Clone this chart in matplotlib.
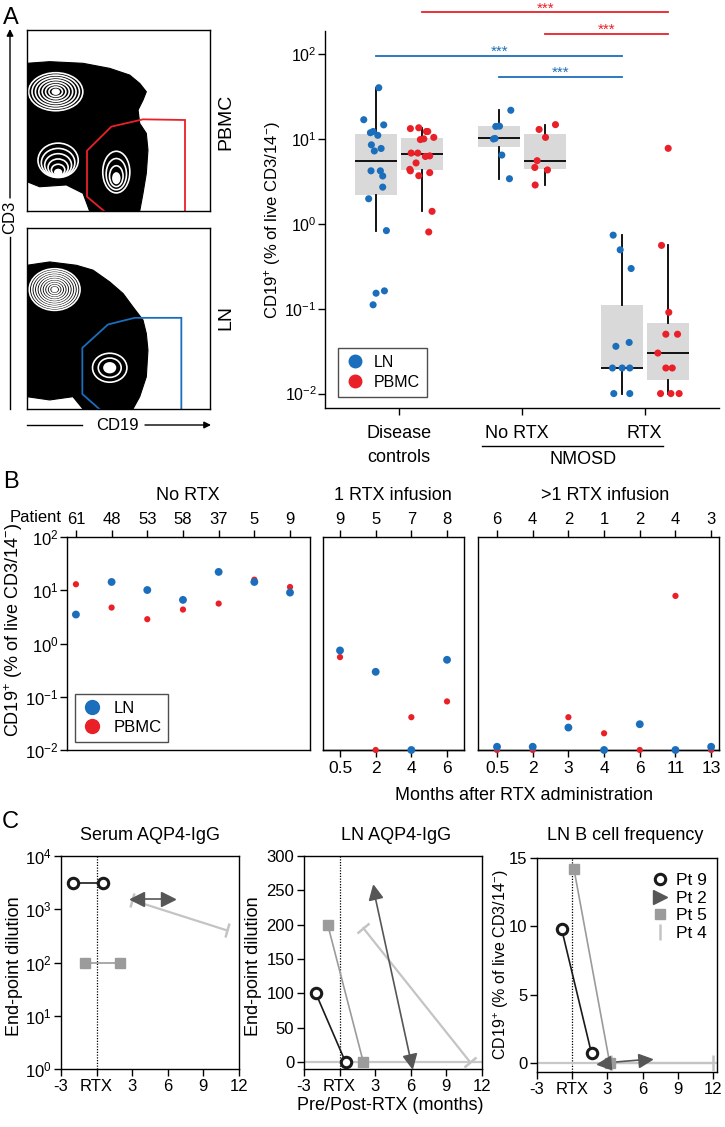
import numpy as np
import matplotlib
matplotlib.use('Agg')
import matplotlib.pyplot as plt
from matplotlib.patches import Polygon, Ellipse
from matplotlib.lines import Line2D
from matplotlib.markers import MarkerStyle
from matplotlib.transforms import Affine2D
from matplotlib.ticker import NullLocator

plt.rcParams['font.family'] = ['Liberation Sans', 'DejaVu Sans']
plt.rcParams['mathtext.fontset'] = 'custom'
plt.rcParams['mathtext.rm'] = 'Liberation Sans'
plt.rcParams['mathtext.it'] = 'Liberation Sans:italic'
plt.rcParams['mathtext.bf'] = 'Liberation Sans:bold'
plt.rcParams['mathtext.sf'] = 'Liberation Sans'
plt.rcParams['axes.linewidth'] = 1.0

# ======================= DATA =======================
# ---- Panel A: flow dot-plot shapes (unit square) ----
pbmc_outline_u = [0, 0.124, 0.306, 0.452, 0.561, 0.616, 0.652, 0.634, 0.607, 0.616,
                  0.652, 0.661, 0.652, 0.634, 0.616, 0.342, 0.306, 0.215, 0.069, 0]
pbmc_outline_v = [0.816, 0.825, 0.816, 0.788, 0.751, 0.705, 0.659, 0.613, 0.558, 0.484,
                  0.429, 0.337, 0.208, 0.098, 0, 0, 0.098, 0.144, 0.134, 0.162]
pbmc_cl_u = [0.157, 0.170, 0.488]
pbmc_cl_v = [0.659, 0.200, 0.170]
pbmc_cl_a = [0.148, 0.110, 0.074]
pbmc_cl_b = [0.105, 0.095, 0.115]
pbmc_cl_n = [8, 6, 4]
pbmc_cl_dv = [0.0, 0.08, 0.045]
pbmc_gate_u = [0.4208, 0.3279, 0.3279, 0.4608, 0.6339, 0.8634, 0.8634]
pbmc_gate_v = [0, 0.0792, 0.3333, 0.466, 0.5064, 0.5028, 0]

ln_outline_u = [0, 0.124, 0.27, 0.361, 0.452, 0.525, 0.579, 0.634, 0.652, 0.661,
                0.652, 0.616, 0.579, 0.306, 0.251, 0.124, 0]
ln_outline_v = [0.794, 0.8125, 0.794, 0.767, 0.702, 0.638, 0.564, 0.491, 0.417, 0.325,
                0.178, 0.068, 0, 0, 0.068, 0.05, 0.068]
ln_cl_u = [0.151, 0.452]
ln_cl_v = [0.660, 0.228]
ln_cl_a = [0.139, 0.094]
ln_cl_b = [0.115, 0.080]
ln_cl_n = [10, 3]
ln_cl_dv = [0.0, 0.0]
ln_gate_u = [0.395, 0.3024, 0.3024, 0.4426, 0.5883, 0.8434, 0.8434]
ln_gate_v = [0, 0.0827, 0.338, 0.4669, 0.5037, 0.5037, 0]

# ---- Panel A: CD19+ frequencies ----
a_groups = ['Disease\ncontrols', 'No RTX', 'RTX']
dc_ln = [40, 16.8, 14.6, 11.8, 12.2, 11.0, 8.5, 7.7, 7.2, 4.2, 4.2, 3.65, 2.7, 1.97, 0.83,
         0.152, 0.162, 0.111]
dc_ln_jit = [0.022, -0.10, 0.062, -0.046, -0.024, 0.014, -0.038, 0.041, -0.014, -0.041,
             0.035, 0.054, 0.054, -0.06, 0.084, 0.0, 0.068, -0.024]
dc_pbmc = [13.2, 13.5, 12.2, 12.2, 10.4, 9.8, 10.0, 6.8, 6.8, 6.2, 6.3, 5.2, 4.37, 4.2,
           3.68, 4.0, 1.4, 0.8]
dc_pbmc_jit = [-0.095, -0.027, 0.035, 0.046, 0.095, -0.014, 0.014, -0.089, -0.035, 0.027,
               0.062, -0.049, -0.10, -0.095, -0.027, 0.062, 0.081, 0.054]
nr_ln = [21.7, 14.0, 14.1, 9.96, 10.1, 6.44, 3.39]
nr_ln_jit = [0.095, -0.027, 0.003, -0.046, -0.033, 0.022, 0.084]
nr_pbmc = [14.7, 12.9, 10.4, 5.53, 4.6, 4.3, 2.86]
nr_pbmc_jit = [0.084, -0.049, 0.003, -0.065, -0.084, 0.019, -0.081]
rtx_ln = [0.734, 0.493, 0.297, 0.036, 0.040, 0.02, 0.02, 0.02, 0.01, 0.01]
rtx_ln_jit = [-0.073, -0.016, 0.073, -0.051, 0.057, -0.079, 0.0, 0.062, -0.068, 0.062]
rtx_pbmc = [7.73, 0.556, 0.0905, 0.05, 0.05, 0.03, 0.02, 0.02, 0.01, 0.01, 0.01]
rtx_pbmc_jit = [0.0, -0.054, 0.005, -0.019, 0.076, -0.084, -0.019, 0.033, -0.062, 0.022, 0.089]
# box stats, order: DC-LN, DC-PBMC, NoRTX-LN, NoRTX-PBMC, RTX-LN, RTX-PBMC
box_q1 = [2.16, 4.25, 8.0, 4.45, 0.02, 0.0143]
box_med = [5.48, 6.56, 10.1, 5.53, 0.02, 0.03]
box_q3 = [11.5, 10.2, 14.0, 11.5, 0.11, 0.067]
box_lo = [0.83, 1.4, 3.39, 2.86, 0.01, 0.01]
box_hi = [40, 13.5, 21.7, 14.7, 0.734, 0.556]
sig_from = [1, 3, 0, 2]
sig_to = [5, 5, 4, 4]
sig_y = [307.6, 172.2, 95.5, 53.7]
sig_label = ['***', '***', '***', '***']

# ---- Panel B ----
b_nr_patients = ['61', '48', '53', '58', '37', '5', '9']
b_nr_ln = [3.5, 14.3, 10.1, 6.59, 22.1, 14.3, 9.04]
b_nr_pbmc = [12.96, 4.73, 2.86, 4.34, 5.62, 15.8, 11.5]
b_one_patients = ['9', '5', '7', '8']
b_one_months = ['0.5', '2', '4', '6']
b_one_ln = [0.74, 0.294, 0.01, 0.494]
b_one_pbmc = [0.555, 0.01, 0.0413, 0.0817]
b_multi_patients = ['6', '4', '2', '1', '2', '4', '3']
b_multi_months = ['0.5', '2', '3', '4', '6', '11', '13']
b_multi_ln = [0.0115, 0.0115, 0.0264, 0.01, 0.0305, 0.01, 0.0115]
b_multi_pbmc = [0.01, 0.01, 0.0413, 0.0206, 0.01, 7.83, 0.01]

# ---- Panel C ----
c_patients = ['Pt 9', 'Pt 2', 'Pt 5', 'Pt 4']
serum_x = {'Pt 9': [-2, 0.5], 'Pt 2': [3.4, 6.0], 'Pt 5': [-1, 2], 'Pt 4': [3.0, 11.0]}
serum_y = {'Pt 9': [3160, 3160], 'Pt 2': [1540, 1540], 'Pt 5': [100, 100], 'Pt 4': [1480, 400]}
lnab_x = {'Pt 9': [-2, 0.5], 'Pt 2': [2.9, 6.0], 'Pt 5': [-1, 2], 'Pt 4': [2.0, 11.0]}
lnab_y = {'Pt 9': [100, 0], 'Pt 2': [248, 2], 'Pt 5': [200, 0], 'Pt 4': [195, 0]}
bcell_x = {'Pt 9': [-0.9, 1.65], 'Pt 2': [2.7, 6.2], 'Pt 5': [0.15, 3.2], 'Pt 4': [3.3, 12.05]}
bcell_y = {'Pt 9': [9.8, 0.7], 'Pt 2': [0, 0.25], 'Pt 5': [14.2, 0], 'Pt 4': [0, 0]}
c_xticks = [-3, 0, 3, 6, 9, 12]
c_xticklabels = ['-3', 'RTX', '3', '6', '9', '12']

# ======================= STYLE / LAYOUT =======================
BLUE = '#1b6ebc'
RED = '#ea2029'
BOXGRAY = '#d9d9d9'
PT_COL = {'Pt 9': '#1a1a1a', 'Pt 2': '#565656', 'Pt 5': '#9b9b9b', 'Pt 4': '#c4c4c4'}

W, H = 725, 1127
fig = plt.figure(figsize=(W / 100, H / 100), dpi=100)


def add_ax(l, t, r, b, **kw):
    return fig.add_axes([l / W, 1 - b / H, (r - l) / W, (b - t) / H], **kw)


ov = add_ax(0, 0, W, H, zorder=20)
ov.set_xlim(0, W)
ov.set_ylim(H, 0)
ov.axis('off')


def T(x, y, s, **kw):
    kw.setdefault('ha', 'center')
    kw.setdefault('va', 'center')
    ov.text(x, y, s, **kw)


def logfmt(e):
    return r'$\mathregular{10^{%d}}$' % e


YLAB = r'CD19$^{+}$ (% of live CD3/14$^{-}$)'

# ---------------- Panel A: flow plots ----------------
def draw_flow(ax, ou, ovv, cu, cv, ca, cb, cn, cdv, gu, gv, gcol):
    ax.set_xlim(0, 1)
    ax.set_ylim(0, 1)
    ax.set_xticks([])
    ax.set_yticks([])
    ax.add_patch(Polygon(np.column_stack([ou, ovv]), closed=True, fc='black', ec='black',
                         lw=0.8, joinstyle='round'))
    for u0, v0, a, b, n, dv in zip(cu, cv, ca, cb, cn, cdv):
        for i in range(n, 0, -1):
            s = i / n
            ax.add_patch(Ellipse((u0, v0 + dv * s), 2 * a * s, 2 * b * s,
                                 fill=(i == 1), fc='white', ec='white', lw=1.2))
    ax.plot(gu, gv, color=gcol, lw=1.3, clip_on=False, solid_joinstyle='miter')


ax_f1 = add_ax(27, 30, 210, 211)
draw_flow(ax_f1, pbmc_outline_u, pbmc_outline_v, pbmc_cl_u, pbmc_cl_v, pbmc_cl_a, pbmc_cl_b,
          pbmc_cl_n, pbmc_cl_dv, pbmc_gate_u, pbmc_gate_v, RED)
ax_f2 = add_ax(27, 228, 210, 409)
draw_flow(ax_f2, ln_outline_u, ln_outline_v, ln_cl_u, ln_cl_v, ln_cl_a, ln_cl_b,
          ln_cl_n, ln_cl_dv, ln_gate_u, ln_gate_v, BLUE)

T(226, 122, 'PBMC', rotation=90, fontsize=14)
T(226, 318, 'LN', rotation=90, fontsize=14)
# CD3 axis arrow
ov.plot([10, 10], [409, 237], color='black', lw=1)
ov.annotate('', xy=(10, 29), xytext=(10, 198),
            arrowprops=dict(arrowstyle='-|>', color='black', lw=1, mutation_scale=10,
                            shrinkA=0, shrinkB=0))
T(10, 217, 'CD3', rotation=90, fontsize=12)
# CD19 axis arrow
ov.plot([27, 82], [425, 425], color='black', lw=1)
ov.annotate('', xy=(211, 425), xytext=(145, 425),
            arrowprops=dict(arrowstyle='-|>', color='black', lw=1, mutation_scale=10,
                            shrinkA=0, shrinkB=0))
T(117, 425, 'CD19', fontsize=12)

# ---------------- Panel A: box plot ----------------
axA = add_ax(325, 31, 719, 408)
axA.set_yscale('log')
axA.set_xlim(0.398, 3.6)
axA.set_ylim(10 ** -2.17, 10 ** 2.27)
offset = 0.187
pos = [g + s * offset for g in (1, 2, 3) for s in (-1, 1)]
stats = [dict(med=m, q1=a, q3=b, whislo=lo, whishi=hi, fliers=[])
         for m, a, b, lo, hi in zip(box_med, box_q1, box_q3, box_lo, box_hi)]
axA.bxp(stats, positions=pos, widths=0.34, patch_artist=True, showfliers=False,
        showcaps=False, boxprops=dict(facecolor=BOXGRAY, edgecolor='none'),
        medianprops=dict(color='black', lw=1.3), whiskerprops=dict(color='black', lw=1.3),
        manage_ticks=False)
a_vals = [dc_ln, dc_pbmc, nr_ln, nr_pbmc, rtx_ln, rtx_pbmc]
a_jits = [dc_ln_jit, dc_pbmc_jit, nr_ln_jit, nr_pbmc_jit, rtx_ln_jit, rtx_pbmc_jit]
for i, (vals, jit) in enumerate(zip(a_vals, a_jits)):
    col = BLUE if i % 2 == 0 else RED
    axA.scatter(pos[i] + np.array(jit), vals, s=26, c=col, edgecolors='none', zorder=3,
                clip_on=False)
for spn in ('top', 'right'):
    axA.spines[spn].set_visible(False)
axA.yaxis.set_minor_locator(NullLocator())
axA.set_yticks([1e-2, 1e-1, 1, 10, 100])
axA.set_yticklabels([logfmt(e) for e in (-2, -1, 0, 1, 2)])
axA.set_xticks([1, 2, 3])
axA.set_xticklabels(['', '', ''])
axA.tick_params(axis='y', length=5, width=1, labelsize=11.5, pad=1)
axA.tick_params(axis='x', length=5, width=1)
for a, b, y, lab, col in zip(sig_from, sig_to, sig_y, sig_label, [RED, RED, BLUE, BLUE]):
    axA.plot([pos[a], pos[b]], [y, y], color=col, lw=1.3, clip_on=False)
    axA.text((pos[a] + pos[b]) / 2, y, lab, ha='center', va='baseline', color=col,
             fontsize=11, clip_on=False)
hA = [Line2D([], [], marker='o', ls='none', color=BLUE, ms=9, label='LN'),
      Line2D([], [], marker='o', ls='none', color=RED, ms=9, label='PBMC')]
legA = axA.legend(handles=hA, loc='lower left', bbox_to_anchor=(0.033, 0.029),
                  borderaxespad=0, fancybox=False, edgecolor='#222222', fontsize=11.5,
                  handletextpad=0.6, borderpad=0.45, labelspacing=0.3, handlelength=1.2)
legA.get_frame().set_linewidth(1.0)

T(399, 433, 'Disease', fontsize=13)
T(399, 458, 'controls', fontsize=13)
T(517, 433, a_groups[1], fontsize=13)
T(644, 433, a_groups[2], fontsize=13)
ov.plot([482, 663], [446, 446], color='black', lw=1)
T(583, 460, 'NMOSD', fontsize=13)
T(273, 220, YLAB, rotation=90, fontsize=12)

# ---------------- Panel B ----------------
b_specs = [
    (add_ax(67, 537, 310, 750), b_nr_patients, None, b_nr_ln, b_nr_pbmc, (-0.25, 6.56)),
    (add_ax(323, 537, 464, 750), b_one_patients, b_one_months, b_one_ln, b_one_pbmc,
     (-0.477, 3.476)),
    (add_ax(478, 537, 719, 750), b_multi_patients, b_multi_months, b_multi_ln, b_multi_pbmc,
     (-0.533, 6.22)),
]
for k, (ax, pats, months, ln, pb, xl) in enumerate(b_specs):
    x = np.arange(len(pats))
    ax.set_yscale('log')
    ax.set_ylim(1e-2, 1e2)
    ax.set_xlim(*xl)
    ax.scatter(x, pb, s=20, c=RED, edgecolors='none', zorder=3, clip_on=False)
    ax.scatter(x, ln, s=32, c=BLUE, edgecolors='none', zorder=4, clip_on=False)
    ax.set_xticks(x)
    ax.set_xticklabels(pats)
    ax.tick_params(axis='x', top=True, labeltop=True, bottom=False, labelbottom=False,
                   length=5, width=1, labelsize=12, pad=2)
    ax.yaxis.set_minor_locator(NullLocator())
    if k == 0:
        ax.set_yticks([1e-2, 1e-1, 1, 10, 100])
        ax.set_yticklabels([logfmt(e) for e in (-2, -1, 0, 1, 2)])
        ax.tick_params(axis='y', length=5, width=1, labelsize=12, pad=1)
    else:
        ax.set_yticks([])
    if months:
        sec = ax.secondary_xaxis('bottom')
        sec.set_xticks(x)
        sec.set_xticklabels(months)
        sec.tick_params(length=5, width=1, labelsize=12.5, pad=3)
axB1 = b_specs[0][0]
hB = [Line2D([], [], marker='o', ls='none', color=BLUE, ms=10, label='LN'),
      Line2D([], [], marker='o', ls='none', color=RED, ms=10, label='PBMC')]
legB = axB1.legend(handles=hB, loc='lower left', bbox_to_anchor=(0.033, 0.038),
                   borderaxespad=0, fancybox=False, edgecolor='#222222', fontsize=12,
                   handletextpad=0.7, borderpad=0.4, labelspacing=0.25, handlelength=1.2)
legB.get_frame().set_linewidth(1.0)
T(62, 518, 'Patient', ha='right', fontsize=12)
T(188, 495, 'No RTX', fontsize=13)
T(393, 495, '1 RTX infusion', fontsize=13)
T(605, 495, '>1 RTX infusion', fontsize=13)
T(524, 795, 'Months after RTX administration', fontsize=13)
T(14, 630, YLAB, rotation=90, fontsize=13)

# ---------------- Panel C ----------------
axC1 = add_ax(61, 856, 239, 1069)
axC2 = add_ax(304, 856, 482, 1069)
axC3 = add_ax(537, 858, 717, 1072)
axC1.set_yscale('log')
axC1.set_ylim(1, 1e4)
axC1.yaxis.set_minor_locator(NullLocator())
axC1.set_yticks([1, 10, 100, 1000, 10000])
axC1.set_yticklabels([logfmt(e) for e in range(5)])
axC2.set_ylim(-10, 300)
axC2.set_yticks([0, 50, 100, 150, 200, 250, 300])
axC3.set_ylim(-0.66, 15)
axC3.set_yticks([0, 5, 10, 15])
for ax, xr in ((axC1, 12), (axC2, 12), (axC3, 12.35)):
    ax.set_xlim(-3, xr)
    ax.set_xticks(c_xticks)
    ax.set_xticklabels(c_xticklabels)
    ax.tick_params(length=5, width=1, labelsize=12, pad=2)
    ax.axvline(0, color='black', lw=0.9, ls=(0, (1, 1.2)), zorder=1)
axC2.axhline(0, color='#c8c8c8', lw=1.6, zorder=1)
axC3.axhline(0, color='#c8c8c8', lw=1.6, zorder=1)


def draw_patients(ax, xd, yd):
    for p in ['Pt 4', 'Pt 5', 'Pt 2', 'Pt 9']:
        xs, ys = xd[p], yd[p]
        col = PT_COL[p]
        lw = 1.6 if p == 'Pt 4' else 1.2
        ax.plot(xs, ys, color=col, lw=lw, zorder=2, clip_on=False)
        if p == 'Pt 9':
            ax.plot(xs, ys, ls='none', marker='o', ms=7.5, mfc='white', mec=col, mew=2.2,
                    zorder=4, clip_on=False)
        elif p == 'Pt 5':
            ax.plot(xs, ys, ls='none', marker='s', ms=7, color=col, zorder=3, clip_on=False)
        else:
            pd = ax.transData.transform(np.column_stack([xs, ys]))
            d = pd[1] - pd[0]
            ang = np.degrees(np.arctan2(d[1], d[0]))
            if p == 'Pt 2':
                angs = [ang + 180, ang]
                base, ms, mew = '>', 10, 0
            else:
                angs = [ang, ang]
                base, ms, mew = '|', 11, 1.8
            for i in range(2):
                m = MarkerStyle(base, transform=Affine2D().rotate_deg(angs[i]))
                ax.plot([xs[i]], [ys[i]], ls='none', marker=m, ms=ms, color=col,
                        mew=mew if mew else None, zorder=3, clip_on=False)


draw_patients(axC1, serum_x, serum_y)
draw_patients(axC2, lnab_x, lnab_y)
draw_patients(axC3, bcell_x, bcell_y)

hC = [Line2D([], [], ls='none', marker='o', ms=7.5, mfc='white', mec=PT_COL['Pt 9'], mew=2.2,
             label='Pt 9'),
      Line2D([], [], ls='none', marker='>', ms=10, color=PT_COL['Pt 2'], label='Pt 2'),
      Line2D([], [], ls='none', marker='s', ms=7, color=PT_COL['Pt 5'], label='Pt 5'),
      Line2D([], [], ls='none', marker='|', ms=11, mew=1.8, color=PT_COL['Pt 4'], label='Pt 4')]
axC3.legend(handles=hC, loc='upper right', bbox_to_anchor=(1.0, 0.98), frameon=False,
            fontsize=12.5, handletextpad=0.3, labelspacing=0.15, handlelength=1.2,
            borderaxespad=0.2)

T(150, 835, 'Serum AQP4-IgG', fontsize=13)
T(396, 835, 'LN AQP4-IgG', fontsize=13)
T(625, 835, 'LN B cell frequency', fontsize=13)
T(15, 966, 'End-point dilution', rotation=90, fontsize=13)
T(254, 966, 'End-point dilution', rotation=90, fontsize=13)
T(501, 965, YLAB, rotation=90, fontsize=11.5)
T(390, 1106, 'Pre/Post-RTX (months)', fontsize=13)

# panel letters
T(11, 18, 'A', fontsize=17)
T(11, 482, 'B', fontsize=17)
T(10, 822, 'C', fontsize=17)

fig.savefig('out.png', dpi=100)
